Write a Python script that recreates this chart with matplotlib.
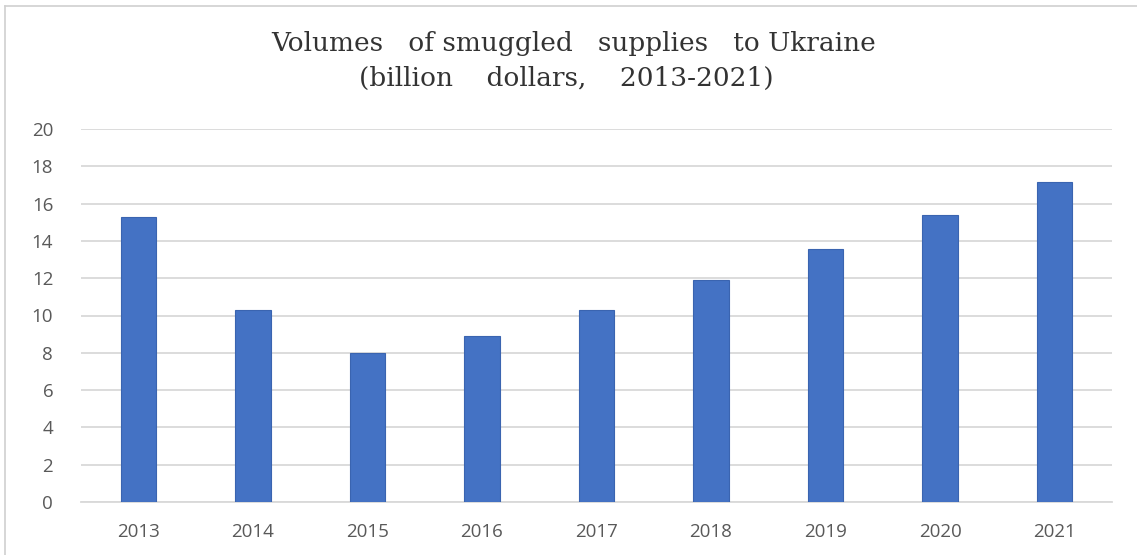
import matplotlib
matplotlib.use("Agg")
import matplotlib.pyplot as plt
from matplotlib.lines import Line2D

years = ["2013", "2014", "2015", "2016", "2017", "2018", "2019", "2020", "2021"]
volumes = [15.3, 10.3, 8.0, 8.9, 10.3, 11.9, 13.55, 15.4, 17.15]
yticks = [0, 2, 4, 6, 8, 10, 12, 14, 16, 18, 20]

title_line1 = "Volumes   of smuggled   supplies   to Ukraine"
title_line2 = "(billion    dollars,    2013-2021)"

fig = plt.figure(figsize=(11.37, 5.55), dpi=100)
ax = fig.add_axes([81 / 1137, 53 / 555, (1112 - 81) / 1137, (502 - 129) / 555])

x = list(range(len(years)))
ax.bar(x, volumes, width=0.31, color="#4472C4", edgecolor="#3A64B0", linewidth=0.8, zorder=3)

ax.set_xlim(-0.5, len(years) - 0.5)
ax.set_ylim(0, 20)
ax.set_yticks(yticks)
ax.set_xticks(x)
ax.set_xticklabels(years)
ax.yaxis.grid(True, color="#d9d9d9", linewidth=1.3, zorder=0)
for s in ("top", "right", "left"):
    ax.spines[s].set_visible(False)
ax.spines["bottom"].set_color("#d9d9d9")
ax.spines["bottom"].set_linewidth(1.3)
ax.tick_params(axis="both", length=0, labelsize=13.5, labelcolor="#595959")
ax.tick_params(axis="y", pad=20)
ax.tick_params(axis="x", pad=15)
for lab in ax.get_xticklabels() + ax.get_yticklabels():
    lab.set_family("Open Sans")

fig.text(574 / 1137, 1 - 43 / 555, title_line1, ha="center", va="center",
         family="DejaVu Serif", fontsize=19, color="#333333")
fig.text(566 / 1137, 1 - 78 / 555, title_line2, ha="center", va="center",
         family="DejaVu Serif", fontsize=19, color="#333333")

# light frame on the top and left edges
fig.add_artist(Line2D([5 / 1137, 5 / 1137], [0, 1 - 6 / 555], transform=fig.transFigure,
                      color="#d0d0d0", linewidth=1.2))
fig.add_artist(Line2D([5 / 1137, 1], [1 - 6 / 555, 1 - 6 / 555], transform=fig.transFigure,
                      color="#d0d0d0", linewidth=1.2))

fig.savefig("out.png", dpi=100)
